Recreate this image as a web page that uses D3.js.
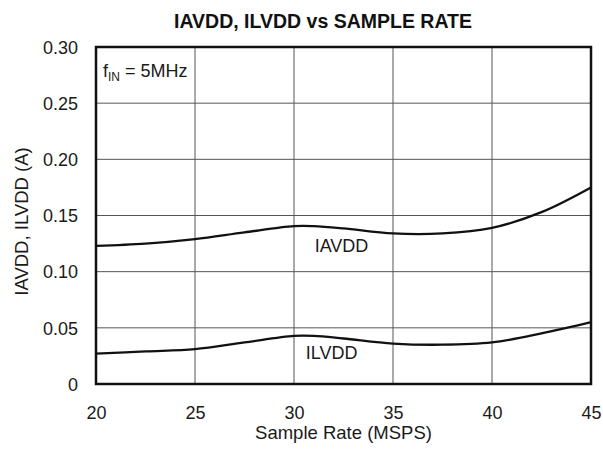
<!DOCTYPE html>
<html>
<head>
<meta charset="utf-8">
<script src="https://cdn.jsdelivr.net/npm/d3@7"></script>
<style>
  body { margin: 0; background: #fff; }
  svg { font-family: "Liberation Sans", Arial, sans-serif; }
</style>
</head>
<body>
<svg id="chart" width="603" height="450"></svg>
<script>
// sample rate (MSPS)
const rate = [20, 22.5, 25, 27.5, 30, 31, 32.5, 35, 37.5, 40, 42.5, 45];
// supply currents (A)
const iavdd = [0.123, 0.125, 0.129, 0.135, 0.1405, 0.1405, 0.1385, 0.134, 0.134, 0.139, 0.153, 0.175];
const ilvdd = [0.027, 0.029, 0.031, 0.037, 0.0428, 0.0428, 0.0405, 0.036, 0.035, 0.037, 0.045, 0.055];
const xTicks = [20, 25, 30, 35, 40, 45];
const yTicks = [0, 0.05, 0.10, 0.15, 0.20, 0.25, 0.30];

const width = 603, height = 450;
const margin = {top: 47, right: 12, bottom: 66, left: 96};

const svg = d3.select("#chart");

const x = d3.scaleLinear()
    .domain([20, 45])
    .range([margin.left, width - margin.right]);

const y = d3.scaleLinear()
    .domain([0, 0.30])
    .range([height - margin.bottom, margin.top]);

// grid
svg.append("g")
    .selectAll("line")
    .data(xTicks.slice(1, -1))
    .join("line")
    .attr("x1", d => x(d)).attr("x2", d => x(d))
    .attr("y1", y(0)).attr("y2", y(0.30))
    .attr("stroke", "#555").attr("stroke-width", 1);

svg.append("g")
    .selectAll("line")
    .data(yTicks.slice(1, -1))
    .join("line")
    .attr("y1", d => y(d)).attr("y2", d => y(d))
    .attr("x1", x(20)).attr("x2", x(45))
    .attr("stroke", "#555").attr("stroke-width", 1);

// axes (labels only)
const xAxis = g => g
    .attr("transform", `translate(0,${y(0) + 22})`)
    .call(d3.axisBottom(x).tickValues(xTicks).tickSize(0).tickPadding(0))
    .call(g => g.select(".domain").remove());

const yAxis = g => g
    .attr("transform", `translate(${x(20) - 18},0)`)
    .call(d3.axisLeft(y).tickValues(yTicks).tickSize(0).tickPadding(0)
        .tickFormat(d => d === 0 ? "0" : d3.format(".2f")(d)))
    .call(g => g.select(".domain").remove());

svg.append("g").call(xAxis)
    .selectAll("text").attr("font-size", 18).attr("fill", "#1a1a1a");
svg.append("g").call(yAxis)
    .selectAll("text").attr("font-size", 18).attr("fill", "#1a1a1a").attr("dy", "0.35em");

svg.selectAll("text").attr("font-family", "Liberation Sans, Arial, sans-serif");

// curves
const line = d3.line()
    .x((d, i) => x(rate[i]))
    .y(d => y(d))
    .curve(d3.curveCatmullRom.alpha(0.5));

svg.append("path").datum(iavdd)
    .attr("fill", "none").attr("stroke", "#111").attr("stroke-width", 2.3)
    .attr("d", line);

svg.append("path").datum(ilvdd)
    .attr("fill", "none").attr("stroke", "#111").attr("stroke-width", 2.3)
    .attr("d", line);

// frame
svg.append("rect")
    .attr("x", x(20)).attr("y", y(0.30))
    .attr("width", x(45) - x(20)).attr("height", y(0) - y(0.30))
    .attr("fill", "none").attr("stroke", "#111").attr("stroke-width", 2.5);

// series labels
svg.append("text")
    .attr("x", x(32.4)).attr("y", y(0.1175))
    .attr("text-anchor", "middle").attr("font-size", 18).attr("fill", "#1a1a1a")
    .text("IAVDD");
svg.append("text")
    .attr("x", x(31.9)).attr("y", y(0.0223))
    .attr("text-anchor", "middle").attr("font-size", 18).attr("fill", "#1a1a1a")
    .text("ILVDD");

// annotation
const ann = svg.append("text")
    .attr("x", x(20) + 7).attr("y", y(0.30) + 30)
    .attr("font-size", 18).attr("fill", "#1a1a1a");
ann.append("tspan").text("f");
ann.append("tspan").attr("font-size", 12).attr("dy", 4).text("IN");
ann.append("tspan").attr("dy", -4).text(" = 5MHz");

// title
svg.append("text")
    .attr("x", 323).attr("y", 28)
    .attr("text-anchor", "middle").attr("font-size", 19.5).attr("font-weight", "bold")
    .attr("fill", "#111")
    .text("IAVDD, ILVDD vs SAMPLE RATE");

// axis titles
svg.append("text")
    .attr("x", x(32.5)).attr("y", 439)
    .attr("text-anchor", "middle").attr("font-size", 18.5).attr("fill", "#1a1a1a")
    .text("Sample Rate (MSPS)");

svg.append("text")
    .attr("transform", `translate(28,${(y(0) + y(0.30)) / 2 + 6}) rotate(-90)`)
    .attr("text-anchor", "middle").attr("font-size", 18.5).attr("fill", "#1a1a1a")
    .text("IAVDD, ILVDD (A)");
</script>
</body>
</html>
